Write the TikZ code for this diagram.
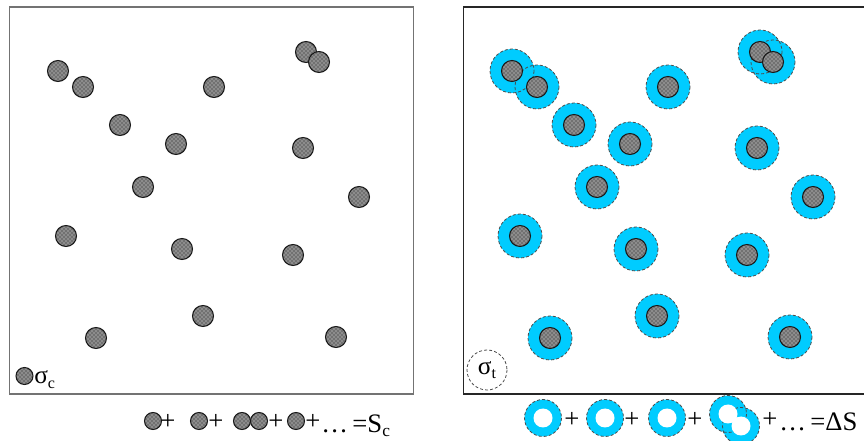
\documentclass[tikz,border=0pt]{standalone}
\usepackage{fontspec}
\usetikzlibrary{patterns}
\setmainfont{Liberation Serif}
\definecolor{ringcyan}{RGB}{0,204,255}
\begin{document}
\begin{tikzpicture}[x=0.75pt,y=-0.75pt,
  particle/.style={fill=black!45, draw=black!90, line width=0.8pt,
     postaction={pattern=crosshatch dots, pattern color=black!90}},
  ringfill/.style={fill=ringcyan},
  ringline/.style={draw=black!70, dash pattern=on 2.2pt off 1.6pt, line width=0.6pt},
  holefill/.style={fill=white},
  frameL/.style={draw=black!55, line width=1.1pt},
  frameR/.style={draw=black!85, line width=1.1pt},
  lbl/.style={font=\fontsize{20}{22}\selectfont, inner sep=0pt},
  leg/.style={font=\fontsize{19}{21}\selectfont, inner sep=0pt}]
\useasboundingbox (0,0) rectangle (864,441);
\def\plist{58/71,83/87,214/87,306/52,319/62,120/125,176/144,303/148,143/187,359/197,66/236,182/249,293/255,203/316,96/338,336/337}
% left panel
\draw[frameL] (9.5,7) rectangle (413.5,394);
\foreach \x/\y in \plist { \path[particle] (\x,\y) circle[radius=10.5]; }
\path[particle] (24.5,376) circle[radius=8.5];
\node[leg, anchor=base west] (sigc) at (34,384) {σ\raisebox{-0.35ex}{\fontsize{12}{13}\selectfont c}};
% right panel
\draw[frameR] (463.5,7) rectangle (867.5,394);
\begin{scope}[shift={(454,0)}]
\foreach \x/\y in \plist { \path[ringfill] (\x,\y) circle[radius=22]; }
\foreach \x/\y in \plist { \path[ringline] (\x,\y) circle[radius=22]; }
\foreach \x/\y in \plist { \path[particle] (\x,\y) circle[radius=10.5]; }
\end{scope}
\path[ringline] (487,370) circle[radius=20];
\node[leg] (sigt) at (487,370) {σ\raisebox{-0.35ex}{\fontsize{12}{13}\selectfont t}};
% bottom left equation
\foreach \x in {153,199,242,259,296} { \path[particle] (\x,421) circle[radius=8.5]; }
\foreach \x [count=\i] in {168,216,276,313} { \node[lbl] (pl\i) at (\x,422) {+}; }
\node[lbl, anchor=base west] (eqc) at (321,432) {\ldots\,=S\raisebox{-0.35ex}{\fontsize{13}{14}\selectfont c}};
% bottom right equation
\foreach \x/\y in {543/418,605/418,667/418,728/414,741/426} { \path[ringfill] (\x,\y) circle[radius=18.5]; }
\foreach \x/\y in {543/418,605/418,667/418,728/414,741/426} { \path[ringline] (\x,\y) circle[radius=18.5]; }
\foreach \x/\y in {543/418,605/418,667/418,728/414,741/426} { \path[holefill] (\x,\y) circle[radius=9.5]; }
\foreach \x [count=\i] in {572,632,695,770} { \node[lbl] (pr\i) at (\x,420) {+}; }
\node[lbl, anchor=base west] (eqd) at (779,431) {\ldots\,=ΔS};
\end{tikzpicture}
\end{document}
